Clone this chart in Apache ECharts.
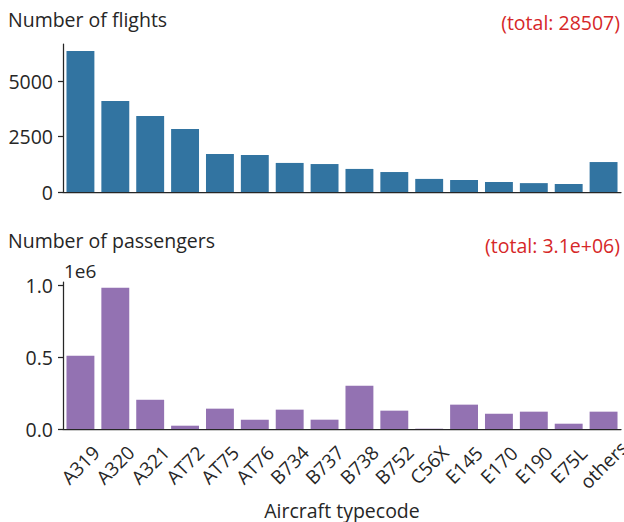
<!DOCTYPE html>
<html>
<head>
<meta charset="utf-8">
<script src="https://cdn.jsdelivr.net/npm/echarts@6/dist/echarts.min.js"></script>
<style>
html,body{margin:0;padding:0;background:#fff;}
#chart{width:624px;height:522px;}
</style>
</head>
<body>
<div id="chart"></div>
<script>
const categories = ['A319','A320','A321','AT72','AT75','AT76','B734','B737','B738','B752','C56X','E145','E170','E190','E75L','others'];
const flights = [6350, 4100, 3420, 2840, 1710, 1670, 1310, 1260, 1040, 900, 590, 540, 450, 400, 360, 1350];
const passengers = [511000, 986000, 204000, 23000, 142000, 65000, 135000, 65000, 302000, 128000, 2000, 170000, 107000, 121000, 37000, 121000];
const flightTicks = [0, 2500, 5000];
const passengerTicks = [0, 500000, 1000000];
const flightTitle = 'Number of flights';
const passengerTitle = 'Number of passengers';
const flightTotal = '(total: 28507)';
const passengerTotal = '(total: 3.1e+06)';
const xName = 'Aircraft typecode';
const offsetText = '1e6';

const FONT = '"Open Sans", "DejaVu Sans", sans-serif';
const dark = '#262626';
const chart = echarts.init(document.getElementById('chart'), null, {renderer: 'svg'});

function xAxisCfg(gridIndex, showLabels) {
  return {
    type: 'category', gridIndex: gridIndex, data: categories,
    axisLine: {lineStyle: {color: dark, width: 1.25}},
    axisTick: {alignWithLabel: true, length: 5, lineStyle: {color: dark, width: 1.25}},
    axisLabel: showLabels ? {rotate: 45, interval: 0, margin: 36, align: 'center', verticalAlign: 'middle',
      hideOverlap: false, color: dark, fontFamily: FONT, fontSize: 19} : {show: false},
    name: showLabels ? xName : '', nameLocation: 'middle', nameGap: 71,
    nameTextStyle: {color: dark, fontFamily: FONT, fontSize: 19.5}
  };
}
function yAxisCfg(gridIndex, max, ticks, fmt) {
  return {
    type: 'value', gridIndex: gridIndex, min: 0, max: max,
    splitLine: {show: false},
    axisLine: {show: true, lineStyle: {color: dark, width: 1.25}},
    axisTick: {show: true, length: 5, customValues: ticks, lineStyle: {color: dark, width: 1.25}},
    axisLabel: {customValues: ticks, formatter: fmt, margin: 10, color: dark, fontFamily: FONT, fontSize: 19.5}
  };
}

chart.setOption({
  animation: false,
  backgroundColor: '#ffffff',
  grid: [
    {left: 63, top: 44, width: 558, height: 148, outerBoundsMode: 'none', containLabel: false},
    {left: 63, top: 282, width: 558, height: 147, outerBoundsMode: 'none', containLabel: false}
  ],
  xAxis: [xAxisCfg(0, false), xAxisCfg(1, true)],
  yAxis: [
    yAxisCfg(0, 6670, flightTicks, v => String(v)),
    yAxisCfg(1, 1026000, passengerTicks, v => (v / 1e6).toFixed(1))
  ],
  series: [
    {type: 'bar', xAxisIndex: 0, yAxisIndex: 0, data: flights, barCategoryGap: '20%', itemStyle: {color: '#3274a1'}},
    {type: 'bar', xAxisIndex: 1, yAxisIndex: 1, data: passengers, barCategoryGap: '20%', itemStyle: {color: '#9372b2'}}
  ],
  graphic: [
    {type: 'text', x: 8, y: 19, style: {text: flightTitle, font: '19.5px ' + FONT, fill: dark, textAlign: 'left', textVerticalAlign: 'middle'}},
    {type: 'text', x: 620, y: 22.5, style: {text: flightTotal, font: '19.5px ' + FONT, fill: '#d62728', textAlign: 'right', textVerticalAlign: 'middle'}},
    {type: 'text', x: 8, y: 240.5, style: {text: passengerTitle, font: '19.5px ' + FONT, fill: dark, textAlign: 'left', textVerticalAlign: 'middle'}},
    {type: 'text', x: 620, y: 245.5, style: {text: passengerTotal, font: '19.5px ' + FONT, fill: '#d62728', textAlign: 'right', textVerticalAlign: 'middle'}},
    {type: 'text', x: 64, y: 271, style: {text: offsetText, font: '19px ' + FONT, fill: dark, textAlign: 'left', textVerticalAlign: 'middle'}}
  ]
});
</script>
</body>
</html>
